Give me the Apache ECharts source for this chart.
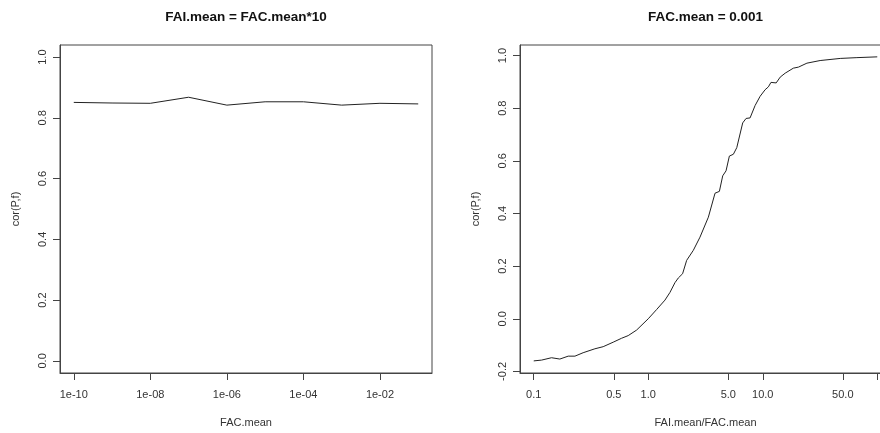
<!DOCTYPE html>
<html><head><meta charset="utf-8">
<script src="https://cdn.jsdelivr.net/npm/echarts@6/dist/echarts.min.js"></script>
<style>html,body{margin:0;padding:0;background:#fff;overflow:hidden}#c{width:893px;height:433px}</style>
</head><body><div id="c"></div>
<script>
const leftTitle = 'FAI.mean = FAC.mean*10';
const rightTitle = 'FAC.mean = 0.001';
const leftXName = 'FAC.mean';
const rightXName = 'FAI.mean/FAC.mean';
const yName = 'cor(P,f)';

const leftX = [1e-10, 1e-9, 1e-8, 1e-7, 1e-6, 1e-5, 1e-4, 1e-3, 1e-2, 1e-1];
const leftY = [0.851, 0.849, 0.848, 0.868, 0.842, 0.853, 0.853, 0.842, 0.848, 0.846];
const leftXTicks = [1e-10, 1e-8, 1e-6, 1e-4, 1e-2];
const leftXTickLabels = ['1e-10', '1e-08', '1e-06', '1e-04', '1e-02'];
const leftYTicks = [0, 0.2, 0.4, 0.6, 0.8, 1.0];

const rightX = [0.1, 0.117, 0.143, 0.169, 0.2, 0.229, 0.27, 0.342, 0.404, 0.494, 0.585, 0.668, 0.791, 1.0,
  1.183, 1.4, 1.547, 1.71, 1.83, 1.995, 2.165, 2.475, 2.83, 3.35, 3.83, 4.18, 4.47, 4.78, 5.11, 5.54, 5.93,
  6.68, 7.15, 7.75, 8.57, 9.48, 10.48, 11.2, 11.8, 13.1, 14.2, 15.7, 18.5, 20.5, 24.3, 31.7, 47.5, 66.4, 100];
const rightY = [-0.16, -0.157, -0.148, -0.153, -0.142, -0.142, -0.129, -0.114, -0.106, -0.089, -0.074, -0.064, -0.043, 0.0,
  0.035, 0.071, 0.10, 0.137, 0.155, 0.171, 0.222, 0.26, 0.31, 0.386, 0.477, 0.484, 0.543, 0.562, 0.618, 0.625, 0.65,
  0.744, 0.761, 0.763, 0.81, 0.845, 0.87, 0.881, 0.898, 0.896, 0.918, 0.933, 0.952, 0.956, 0.971, 0.981, 0.989, 0.992, 0.995];
const rightXTicks = [0.1, 0.5, 1, 5, 10, 50, 100];
const rightXTickLabels = ['0.1', '0.5', '1.0', '5.0', '10.0', '50.0', ''];
const rightYTicks = [-0.2, 0, 0.2, 0.4, 0.6, 0.8, 1.0];

const FONT = 'Liberation Sans, Arial, sans-serif';
const TXT = '#333';
const LINE = '#444';

function labelFor(ticks, labels) {
  return function (v) {
    for (let i = 0; i < ticks.length; i++) {
      if (Math.abs(Math.log10(v) - Math.log10(ticks[i])) < 1e-6) return labels[i];
    }
    return '';
  };
}
function zip(a, b) { return a.map((x, i) => [x, b[i]]); }

function xAxisCfg(gi, min, max, ticks, labels, name) {
  return {
    gridIndex: gi, type: 'log', logBase: 10, min: min, max: max, position: 'bottom',
    name: name, nameLocation: 'middle', nameGap: 44,
    nameTextStyle: { fontFamily: FONT, fontSize: 11, color: TXT },
    axisLine: { show: true, onZero: false, lineStyle: { color: LINE, width: 1 } },
    axisTick: { show: true, length: 7, customValues: ticks, lineStyle: { color: LINE, width: 1 } },
    axisLabel: { customValues: ticks, formatter: labelFor(ticks, labels), margin: 16,
      fontFamily: FONT, fontSize: 11, color: TXT },
    splitLine: { show: false }, minorTick: { show: false }
  };
}
function yAxisCfg(gi, min, max, ticks) {
  return {
    gridIndex: gi, type: 'value', min: min, max: max, position: 'left',
    name: yName, nameLocation: 'middle', nameGap: 39, nameRotate: 90,
    nameTextStyle: { fontFamily: FONT, fontSize: 11, color: TXT },
    axisLine: { show: true, onZero: false, lineStyle: { color: LINE, width: 1 } },
    axisTick: { show: true, length: 7, customValues: ticks, lineStyle: { color: LINE, width: 1 } },
    axisLabel: { customValues: ticks, rotate: 90, margin: 12, formatter: v => v.toFixed(1),
      fontFamily: FONT, fontSize: 11, color: TXT },
    splitLine: { show: false }
  };
}

const chart = echarts.init(document.getElementById('c'), null, { renderer: 'canvas' });
chart.setOption({
  animation: false,
  backgroundColor: '#fff',
  title: [
    { text: leftTitle, left: 246, top: 10, textAlign: 'center', padding: 0,
      textStyle: { fontFamily: FONT, fontSize: 13.5, fontWeight: 'bold', color: '#111' } },
    { text: rightTitle, left: 705.5, top: 10, textAlign: 'center', padding: 0,
      textStyle: { fontFamily: FONT, fontSize: 13.5, fontWeight: 'bold', color: '#111' } }
  ],
  grid: [
    { left: 60, top: 45, width: 372, height: 330, show: true, borderColor: LINE, borderWidth: 1, containLabel: false },
    { left: 520, top: 45, width: 371, height: 330, show: true, borderColor: LINE, borderWidth: 1, containLabel: false }
  ],
  xAxis: [
    xAxisCfg(0, Math.pow(10, -10.36), Math.pow(10, -0.64), leftXTicks, leftXTickLabels, leftXName),
    xAxisCfg(1, Math.pow(10, -1.12), Math.pow(10, 2.12), rightXTicks, rightXTickLabels, rightXName)
  ],
  yAxis: [
    yAxisCfg(0, -0.04, 1.04, leftYTicks),
    yAxisCfg(1, -0.206, 1.04, rightYTicks)
  ],
  series: [
    { type: 'line', xAxisIndex: 0, yAxisIndex: 0, data: zip(leftX, leftY), symbol: 'none',
      lineStyle: { color: '#222', width: 1 } },
    { type: 'line', xAxisIndex: 1, yAxisIndex: 1, data: zip(rightX, rightY), symbol: 'none',
      lineStyle: { color: '#222', width: 1 } }
  ]
});
</script>
</body></html>
